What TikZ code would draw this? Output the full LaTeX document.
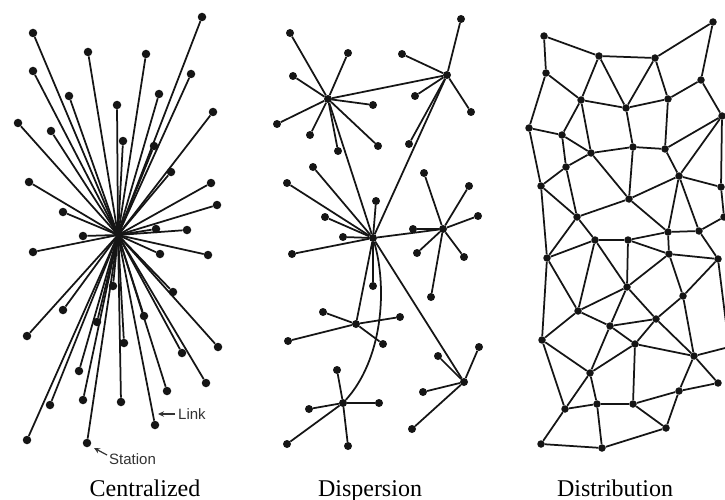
\documentclass[tikz,border=0pt]{standalone}
\usepackage{fontspec}
\setmainfont{Liberation Serif}
\newfontfamily\annfont{Liberation Sans}
\usetikzlibrary{arrows.meta}
\definecolor{ink}{HTML}{151515}
\definecolor{anntext}{HTML}{333333}
\begin{document}
\begin{tikzpicture}[x=1pt,y=-1pt,
  link/.style={draw=ink,line width=1.75pt},
  dotL/.style={circle,fill=ink,inner sep=0pt,minimum size=8.5pt},
  dotM/.style={circle,fill=ink,inner sep=0pt,minimum size=8pt},
  dotR/.style={circle,fill=ink,inner sep=0pt,minimum size=7.5pt},
  title/.style={font=\fontsize{24}{26}\selectfont,text=black,anchor=base,inner sep=0pt},
  ann/.style={font=\annfont\fontsize{15}{17}\selectfont,text=anntext,anchor=west,inner sep=0pt},
  annarrow/.style={draw=anntext,line width=1.2pt,-{Stealth[length=6pt,width=5.5pt]}}]
\useasboundingbox (0,0) rectangle (725,500);
\clip (0,0) rectangle (725,500);
\fill[white] (0,0) rectangle (725,500);

% ---------------- Centralized ----------------
\coordinate (Lh) at (118,235);
\foreach \n/\x/\y in {1/202/17,2/33/33,3/88/52,4/146/54,5/33/71,6/191/74,7/69/96,8/159/94,
  9/117/105,10/213/112,11/18/123,12/51/131,13/123/141,14/154/146,15/171/172,16/29/182,
  17/211/183,18/63/212,19/217/205,20/156/229,21/187/230,22/83/236,23/33/252,24/160/254,
  25/208/255,26/113/286,27/173/292,28/63/310,29/97/322,30/144/316,31/27/336,32/124/343,
  33/218/347,34/182/353,35/79/371,36/206/383,37/167/391,38/50/405,39/83/400,40/121/402,
  41/155/425,42/27/440,43/87/443}{
  \node[dotL] (L\n) at (\x,\y) {};
  \draw[link] (Lh) -- (L\n);
}
\coordinate (linkA) at (158,414);
\coordinate (linkB) at (175,414);
\draw[annarrow] (linkB) -- (linkA);
\node[ann] (linktext) at (178,414) {Link};
\coordinate (stA) at (94,448);
\coordinate (stB) at (107,455);
\draw[annarrow] (stB) -- (stA);
\node[ann] (sttext) at (109,459) {Station};

% ---------------- Dispersion ----------------
\foreach \h/\x/\y in {A/328/99,B/447/75,C/373/238,D/443/229,E/356/324,F/343/403,G/464/382}{
  \node[dotM] (H\h) at (\x,\y) {};
}
\draw[link] (HA) -- (HB);
\draw[link] (HA) -- (HC);
\draw[link] (HB) -- (HC);
\draw[link] (HC) -- (HD);
\draw[link] (HC) -- (HE);
\draw[link] (HC) -- (HG);
\draw[link] (HC) .. controls (388,290) and (382,360) .. (HF);
\foreach \h/\n/\x/\y in {A/1/290/33,A/2/348/53,A/3/293/76,A/4/373/105,A/5/277/124,A/6/310/135,
  A/7/338/151,A/8/378/146,
  B/1/461/19,B/2/402/54,B/3/415/96,B/4/471/112,B/5/409/144,
  C/1/313/167,C/2/287/183,C/3/325/217,C/4/376/201,C/5/343/237,C/6/292/254,C/7/373/286,
  D/1/413/229,D/2/417/253,D/3/464/257,D/4/431/297,D/5/424/173,D/6/469/186,D/7/478/216,
  E/1/323/312,E/2/400/317,E/3/288/341,E/4/383/344,
  F/1/337/370,F/2/309/409,F/3/379/403,F/4/287/444,F/5/348/446,
  G/1/438/356,G/2/479/347,G/3/423/392,G/4/412/429}{
  \node[dotM] (M\h\n) at (\x,\y) {};
  \draw[link] (H\h) -- (M\h\n);
}

% ---------------- Distribution ----------------
\foreach \n/\x/\y in {1/544/36,2/599/56,3/655/58,4/713/22,5/546/73,6/581/100,7/626/108,
  8/668/99,9/701/80,10/722/116,11/529/128,12/562/135,13/591/153,14/633/147,15/665/149,
  16/566/167,17/541/186,18/679/176,19/721/187,20/629/199,21/577/217,22/724/217,
  23/668/232,24/699/231,25/595/240,26/628/240,27/547/258,28/669/254,29/718/259,
  30/627/287,31/683/296,32/578/311,33/656/319,34/610/326,35/542/340,36/635/344,
  37/694/356,38/590/373,39/718/383,40/679/391,41/565/409,42/597/404,43/633/404,
  44/666/428,45/541/444,46/602/448}{
  \node[dotR] (d\n) at (\x,\y) {};
}
\coordinate (dR) at (729,347);
\foreach \a/\b in {1/2,1/5,2/3,3/4,4/9,2/6,2/7,3/7,3/8,5/6,5/11,6/7,7/8,8/9,9/10,8/15,
  6/12,6/13,11/12,11/17,12/16,12/13,7/14,14/15,13/14,13/16,13/20,16/17,16/21,15/18,
  10/18,10/15,10/19,18/19,14/20,20/18,17/21,21/20,19/22,18/23,18/24,20/23,22/24,23/24,
  23/28,26/23,26/28,25/26,24/29,28/29,17/27,21/27,21/25,27/25,26/30,25/30,28/30,28/31,
  29/31,25/32,27/32,27/35,30/32,30/34,30/33,31/33,31/37,32/34,32/35,33/34,33/36,33/37,
  34/36,34/38,35/38,35/41,36/38,36/43,36/37,37/39,37/40,39/40,38/41,38/42,40/43,40/44,
  41/42,41/45,42/43,42/46,43/44,44/46,45/46}{
  \draw[link] (d\a) -- (d\b);
}
\draw[link] (d37) -- (dR);
\draw[link] (d29) -- (dR);

% ---------------- Titles ----------------
\node[title] (t1) at (145,496) {Centralized};
\node[title] (t2) at (370,496) {Dispersion};
\node[title] (t3) at (615,496) {Distribution};
\end{tikzpicture}
\end{document}
